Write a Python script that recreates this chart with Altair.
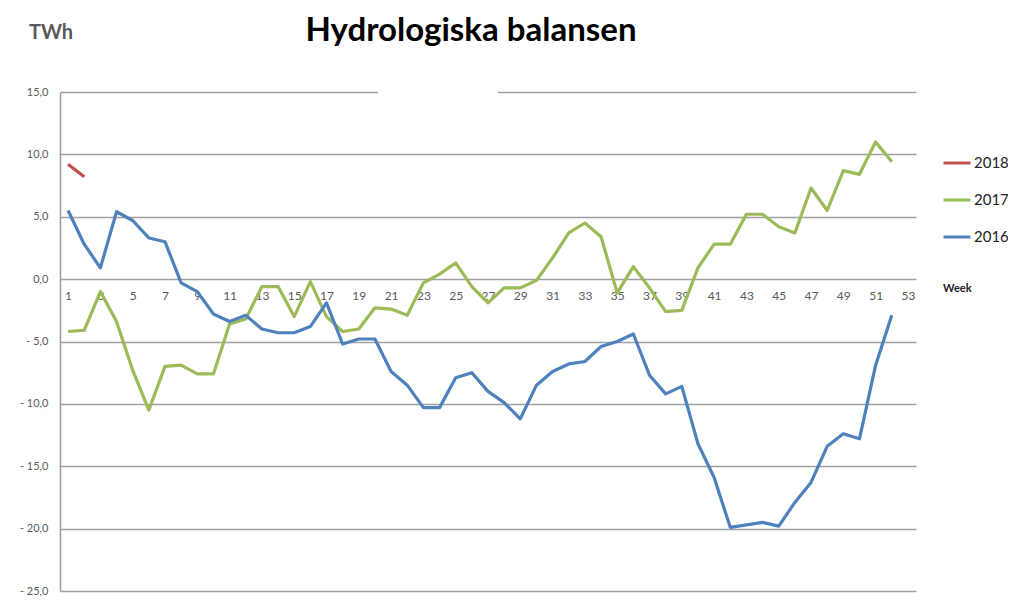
import altair as alt
import pandas as pd

weeks = list(range(1, 53))
v2016 = [5.5, 2.8, 0.9, 5.4, 4.7, 3.3, 3.0, -0.3, -1.0, -2.8, -3.4, -2.9, -4.0, -4.3, -4.3, -3.8,
         -1.9, -5.2, -4.8, -4.8, -7.4, -8.5, -10.3, -10.3, -7.9, -7.5, -9.0, -9.9, -11.2, -8.5,
         -7.4, -6.8, -6.6, -5.4, -5.0, -4.4, -7.7, -9.2, -8.6, -13.2, -15.9, -19.9, -19.7, -19.5,
         -19.8, -17.9, -16.3, -13.4, -12.4, -12.8, -6.9, -2.9]
v2017 = [-4.2, -4.1, -1.0, -3.4, -7.3, -10.5, -7.0, -6.9, -7.6, -7.6, -3.6, -3.2, -0.6, -0.6, -3.0,
         -0.2, -3.0, -4.2, -4.0, -2.3, -2.4, -2.9, -0.3, 0.4, 1.3, -0.6, -1.9, -0.7, -0.7, -0.1,
         1.7, 3.7, 4.5, 3.4, -1.1, 1.0, -0.7, -2.6, -2.5, 0.9, 2.8, 2.8, 5.2, 5.2, 4.2, 3.7, 7.3,
         5.5, 8.7, 8.4, 11.0, 9.4]
v2018 = [9.2, 8.2]
series = ["2018", "2017", "2016"]
colors = ["#C0504D", "#9BBB59", "#4F81BD"]
week_ticks = list(range(1, 54, 2))
y_ticks = [15, 10, 5, 0, -5, -10, -15, -20, -25]

rows = []
for w, v in zip(weeks[:len(v2018)], v2018):
    rows.append({"week": w, "value": v, "year": "2018"})
for w, v in zip(weeks, v2017):
    rows.append({"week": w, "value": v, "year": "2017"})
for w, v in zip(weeks, v2016):
    rows.append({"week": w, "value": v, "year": "2016"})
df = pd.DataFrame(rows)

W, H = 856, 499
TOP = 84
FONT = "Lato"

lines = alt.Chart(df).mark_line(strokeWidth=3.2, strokeJoin="round").encode(
    x=alt.X("week:Q",
            scale=alt.Scale(domain=[0.5, 53.5], nice=False, zero=False),
            axis=alt.Axis(values=week_ticks, offset=-H * 25 / 40, domain=False, ticks=False,
                          grid=False, labelPadding=11, labelFontSize=12, labelColor="#595959",
                          labelFont=FONT, title=None)),
    y=alt.Y("value:Q",
            scale=alt.Scale(domain=[-25, 15], nice=False, zero=False),
            axis=alt.Axis(values=y_ticks, ticks=False, domain=True, domainColor="#9a9a9a",
                          domainWidth=1.5, grid=True, gridColor="#a0a0a0", gridWidth=1.5,
                          labelPadding=12, labelFontSize=11, labelColor="#595959", labelFont=FONT,
                          labelExpr="datum.value < 0 ? '- ' + replace(format(-datum.value, '.1f'), '.', ',') : replace(format(datum.value, '.1f'), '.', ',')",
                          title=None)),
    color=alt.Color("year:N",
                    scale=alt.Scale(domain=series, range=colors),
                    sort=series,
                    legend=alt.Legend(title=None, orient="none", legendX=W + 26, legendY=56,
                                      symbolType="stroke", symbolSize=729, symbolStrokeWidth=3,
                                      labelFontSize=15, labelColor="#222222", labelFont=FONT,
                                      labelOffset=2, rowPadding=14)),
    detail="year:N",
)

gap = alt.Chart(pd.DataFrame({"g": [0]})).mark_rule(color="white", strokeWidth=4).encode(
    x=alt.value(318), x2=alt.value(438), y=alt.value(0)
)

title = alt.Chart(pd.DataFrame({"t": ["Hydrologiska balansen"]})).mark_text(
    font=FONT, fontSize=33, fontWeight="bold", color="#000000", align="center", baseline="middle"
).encode(text="t:N", x=alt.value(411), y=alt.value(31 - 8 - TOP))

twh = alt.Chart(pd.DataFrame({"t": ["TWh"]})).mark_text(
    font=FONT, fontSize=20, fontWeight="bold", color="#595959", align="left", baseline="middle"
).encode(text="t:N", x=alt.value(-31), y=alt.value(33 - 8 - TOP))

week_lbl = alt.Chart(pd.DataFrame({"t": ["Week"]})).mark_text(
    font=FONT, fontSize=11, fontWeight="bold", color="#222222", align="left", baseline="middle"
).encode(text="t:N", x=alt.value(W + 27), y=alt.value(H * 15 / 40 + 10))

chart = alt.layer(lines, gap, title, twh, week_lbl).properties(
    width=W, height=H,
    padding={"left": 52, "top": TOP, "right": 92, "bottom": 6},
    autosize=alt.AutoSizeParams(type="none"),
).configure_view(stroke=None)

chart.save("out.html", embed_options={"renderer": "svg", "actions": False})
